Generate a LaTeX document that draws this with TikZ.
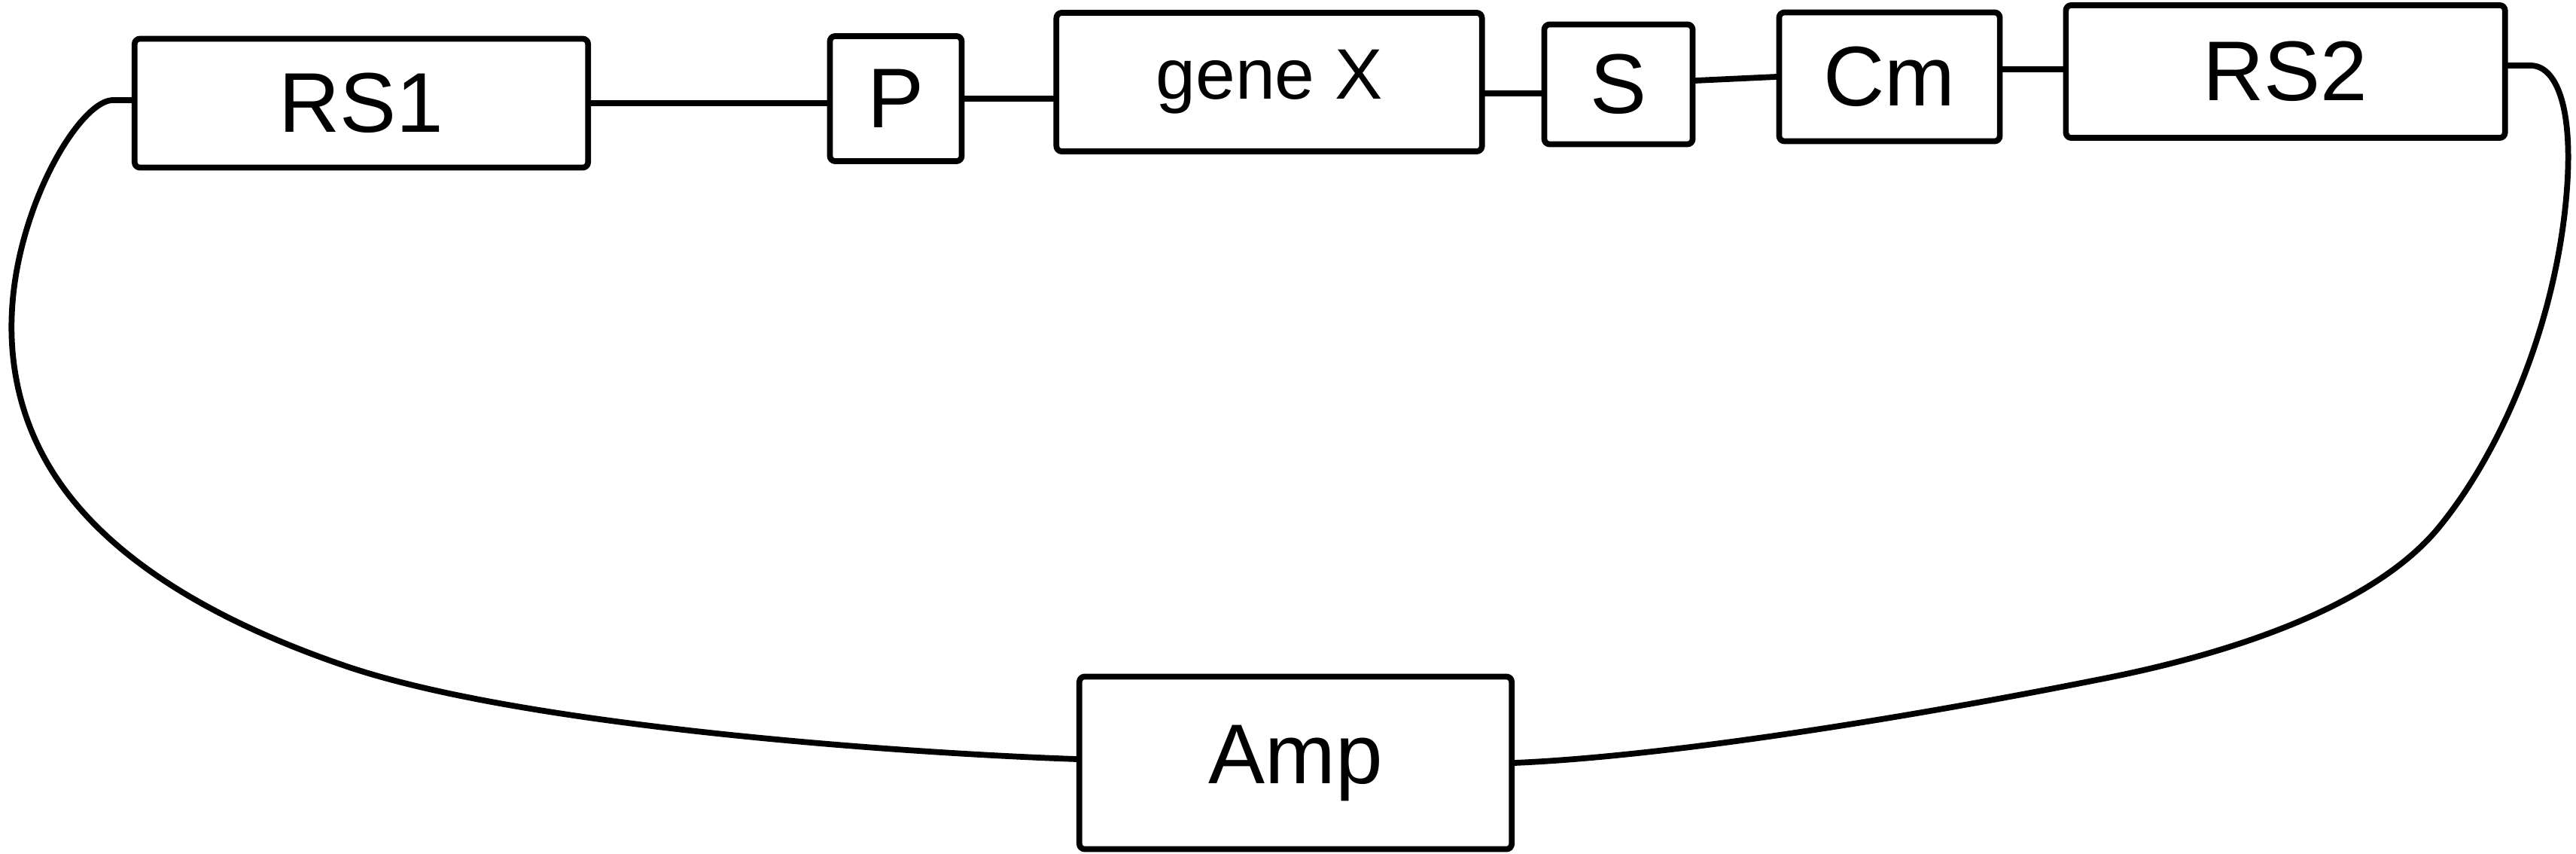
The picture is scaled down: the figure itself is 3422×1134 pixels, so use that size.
\documentclass[tikz,border=0pt]{standalone}
\usepackage{fontspec}
\setmainfont{Liberation Sans}
\usepackage{tikz}
\usetikzlibrary{calc}

\begin{document}
\begin{tikzpicture}[
  x=0.01cm, y=-0.01cm,
  line width=2.2pt, line join=round, line cap=round,
  part/.style={draw,rounded corners=2pt,inner sep=0pt,
    font=\fontsize{32}{38}\selectfont},
  wire/.style={line width=2.2pt}
  ]
\useasboundingbox (0,0) rectangle (3422,1134);
\node[part,minimum width=6.02cm,minimum height=1.71cm] (RS1) at (480,137){RS1};     % left site
\node[part,minimum width=1.75cm,minimum height=1.66cm] (P) at (1190,131){P};        % promoter
\node[part,minimum width=5.65cm,minimum height=1.84cm,
  font=\fontsize{27}{32}\selectfont] (gene) at (1686,109){gene X};                 % insert
\node[part,minimum width=1.97cm,minimum height=1.59cm] (S) at (2150,112){S};
\node[part,minimum width=2.93cm,minimum height=1.71cm] (Cm) at (2510,102){Cm};
\node[part,minimum width=5.83cm,minimum height=1.76cm] (RS2) at (3036,95){RS2};     % right site
\node[part,minimum width=5.74cm,minimum height=2.29cm] (Amp) at (1721,1013){Amp};   % bottom
\draw[wire] (RS1.east) -- (RS1.east -| P.west);
\draw[wire] (P.east) -- (P.east -| gene.west);
\draw[wire] ($(gene.east)+(0,15)$) -- ($(S.west)+(0,12)$);
\draw[wire] ($(S.east)+(0,-5)$) -- (Cm.west);
\draw[wire] ($(Cm.east)+(0,-10)$) -- ($(RS2.west)+(0,-3)$);
% big loop back to Amp
\draw[wire] ($(RS2.east)+(0,-8)$) -- ++(30,0)
  .. controls (3395,87) and (3418,140) .. (3410,250)
  .. controls (3398,415) and (3330,590) .. (3240,700)
  .. controls (3150,810) and (2950,870) .. (2800,900)
  .. controls (2500,960) and (2200,1005) .. (Amp.east);
\draw[wire] ($(RS1.west)+(0,-4)$) -- ++(-25,0)
  .. controls (120,133) and (70,200) .. (40,290)
  .. controls (0,410) and (10,520) .. (60,610)
  .. controls (135,745) and (300,830) .. (458,884)
  .. controls (695,965) and (1200,1000) .. ($(Amp.west)+(0,-5)$);
\end{tikzpicture}
\end{document}
